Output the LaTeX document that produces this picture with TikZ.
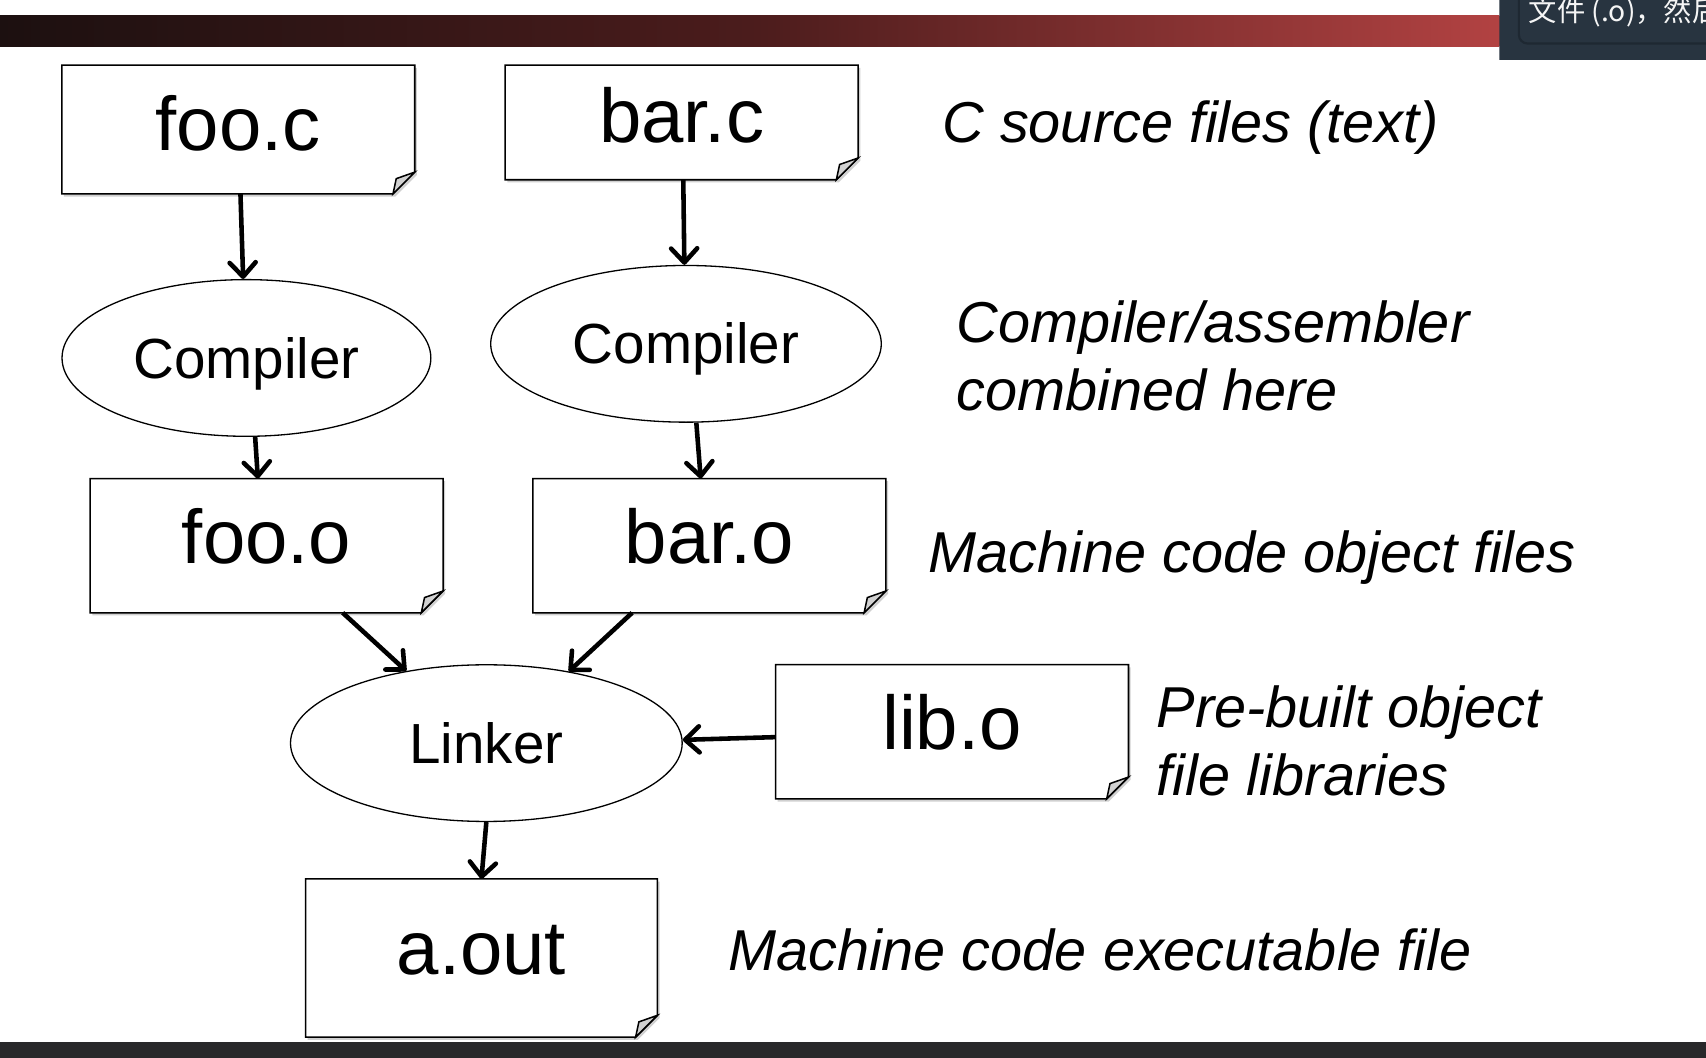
\documentclass[tikz,border=0pt]{standalone}
\usepackage{fontspec}
\setmainfont{Liberation Sans}
\newfontfamily\cjkfont{Noto Sans CJK SC}
\usetikzlibrary{arrows.meta,shapes.geometric,shadows}
\pgfdeclarelayer{bg}
\pgfdeclarelayer{frames}
\pgfsetlayers{bg,frames,main}
\definecolor{barL}{RGB}{28,16,16}
\definecolor{barM}{RGB}{75,28,28}
\definecolor{barR}{RGB}{178,66,66}
\definecolor{panel}{RGB}{40,52,64}
\definecolor{panelborder}{RGB}{30,40,50}
\definecolor{botbar}{RGB}{40,40,42}
\def\fold{20pt}
\newcommand\fileframe[1]{%
  \draw[frameline, fill=white, drop shadow={shadow xshift=2pt,shadow yshift=-2.5pt,opacity=.3,fill=black!60}]
    (#1.north west) -- (#1.north east) -- ([yshift=\fold]#1.south east)
    -- ([xshift=-\fold]#1.south east) -- (#1.south west) -- cycle;
  \draw[frameline, fill=black!18]
    ([yshift=\fold]#1.south east) -- ([xshift=-\fold]#1.south east)
    -- ([xshift=-0.85*\fold, yshift=0.7*\fold]#1.south east) -- cycle;
}
\begin{document}
\begin{tikzpicture}[x=1pt,y=-1pt,
  filebox/.style={rectangle, inner sep=0pt, minimum width=324pt, text height=51pt,
    font=\fontsize{70}{80}\selectfont},
  proc/.style={ellipse, draw, line width=1.2pt, fill=white, inner sep=0pt,
    text height=37pt, text depth=0pt, font=\fontsize{52}{60}\selectfont},
  note/.style={anchor=base west, inner sep=0pt, font=\fontsize{53}{62}\selectfont\itshape},
  flow/.style={line width=4.2pt, -{Straight Barb[length=13pt,width=24pt,round]}},
  frameline/.style={line width=1.4pt, line join=miter}
]
\useasboundingbox (0,0) rectangle (1568,972);
\begin{pgfonlayer}{bg}
  \fill[white] (0,0) rectangle (1568,972);
  \shade[left color=barL, right color=barR, middle color=barM] (0,14) rectangle (1378,43);
  \begin{scope}
    \clip (1378,0) rectangle (1568,55);
    \fill[panel] (1378,0) rectangle (1568,55);
    \draw[panelborder, line width=2pt, rounded corners=8pt] (1396,-10) -- (1396,40) -- (1590,40);
    \node[anchor=base west, inner sep=0pt, text=white!92!gray,
      font=\cjkfont\fontsize{26}{30}\selectfont] (popup) at (1405,20) {文件 (.o)，然后};
  \end{scope}
  \fill[botbar] (0,958) rectangle (1568,972);
\end{pgfonlayer}

% file boxes
\node[filebox, minimum height=118pt, text depth=13pt] (fooc) at (219,119) {foo.c};
\node[filebox, minimum height=105pt, text depth=14pt] (barc) at (626.5,112.5) {bar.c};
\node[filebox, minimum height=123pt, text depth=18pt] (fooo) at (245,501.5) {foo.o};
\node[filebox, minimum height=123pt, text depth=18pt] (baro) at (652,501.5) {bar.o};
\node[filebox, minimum height=123pt, text depth=18pt] (libo) at (875,672.5) {lib.o};
\node[filebox, minimum width=323pt, minimum height=145pt, text depth=20pt] (aout) at (442.5,880.5) {a.out};

\begin{pgfonlayer}{frames}
  \fileframe{fooc}
  \fileframe{barc}
  \fileframe{fooo}
  \fileframe{baro}
  \fileframe{libo}
  \fileframe{aout}
\end{pgfonlayer}

% processes
\node[proc, minimum width=339pt, minimum height=144pt] (comp1) at (226.5,329) {Compiler};
\node[proc, minimum width=359pt, minimum height=144pt] (comp2) at (630.5,316) {Compiler};
\node[proc, minimum width=360pt, minimum height=144pt] (linker) at (447,683) {Linker};

% notes
\node[note] (n1) at (866,131) {C source files (text)};
\node[note] (n2a) at (879,315) {Compiler/assembler};
\node[note] (n2b) at (879,377) {combined here};
\node[note] (n3) at (853,526) {Machine code object files};
\node[note] (n4a) at (1063,669) {Pre-built object};
\node[note] (n4b) at (1063,731) {file libraries};
\node[note] (n5) at (669,892) {Machine code executable file};

% connectors
\draw[flow] ([xshift=2pt]fooc.south) -- ([xshift=-3pt]comp1.north);
\draw[flow] ([xshift=1.5pt]barc.south) -- ([xshift=-1.5pt]comp2.north);
\draw[flow] ([xshift=8pt]comp1.south) -- ([xshift=-8pt]fooo.north);
\draw[flow] ([xshift=9.5pt]comp2.south) -- ([xshift=-8pt]baro.north);
\draw[flow] ([xshift=70pt]fooo.south) -- (linker.138);
\draw[flow] ([xshift=-71pt]baro.south) -- (linker.41);
\draw[flow] ([yshift=-5pt]libo.west) -- ([yshift=3pt]linker.east);
\draw[flow] (linker.south) -- (aout.north);
\end{tikzpicture}
\end{document}
